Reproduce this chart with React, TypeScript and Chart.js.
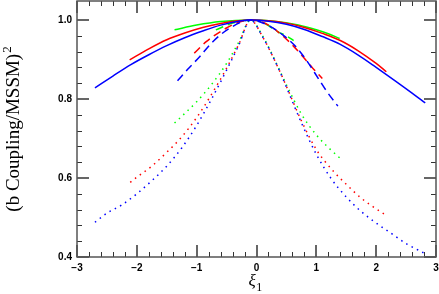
import React, { useEffect, useRef } from "react";
import { Chart, registerables } from "chart.js";

Chart.register(...registerables);

// ---- data ----
const blueSolidX = [-2.7, -2.4, -2.1, -1.8, -1.5, -1.2, -0.9, -0.6, -0.3, -0.1, 0.2, 0.5, 0.8, 1.1, 1.4, 1.7, 2.0, 2.3, 2.6, 2.82];
const blueSolidY = [0.828, 0.858, 0.887, 0.912, 0.935, 0.955, 0.972, 0.987, 0.997, 1.0, 0.997, 0.989, 0.976, 0.958, 0.938, 0.911, 0.88, 0.848, 0.815, 0.79];
const redSolidX = [-2.12, -1.8, -1.5, -1.2, -0.9, -0.6, -0.3, -0.1, 0.2, 0.5, 0.8, 1.1, 1.4, 1.7, 2.0, 2.17];
const redSolidY = [0.899, 0.927, 0.95, 0.967, 0.981, 0.991, 0.998, 1.0, 0.998, 0.992, 0.981, 0.966, 0.948, 0.922, 0.89, 0.869];
const greenSolidX = [-1.37, -1.0, -0.6, -0.1, 0.3, 0.7, 1.0, 1.2, 1.39];
const greenSolidY = [0.975, 0.987, 0.996, 1.0, 0.997, 0.987, 0.975, 0.965, 0.953];

const blueDashX = [-1.32, -1.15, -0.95, -0.73, -0.45, -0.1, 0.2, 0.45, 0.66, 0.83, 1.05, 1.18, 1.36];
const blueDashY = [0.846, 0.875, 0.907, 0.945, 0.979, 1.0, 0.986, 0.961, 0.932, 0.899, 0.848, 0.818, 0.782];
const redDashX = [-1.04, -0.84, -0.51, -0.28, -0.1, 0.2, 0.45, 0.61, 0.77, 0.94, 1.1];
const redDashY = [0.916, 0.945, 0.979, 0.995, 1.0, 0.987, 0.958, 0.935, 0.908, 0.878, 0.852];
const greenDashX = [-0.68, -0.4, -0.1, 0.1, 0.36, 0.52, 0.62];
const greenDashY = [0.975, 0.992, 1.0, 0.994, 0.97, 0.958, 0.948];

const blueDotX = [-2.7, -2.5, -2.25, -2.0, -1.75, -1.5, -1.25, -1.0, -0.75, -0.5, -0.3, -0.1, 0.1, 0.38, 0.5, 0.75, 1.0, 1.25, 1.5, 1.75, 2.0, 2.25, 2.5, 2.8];
const blueDotY = [0.488, 0.511, 0.532, 0.56, 0.593, 0.63, 0.676, 0.733, 0.8, 0.873, 0.935, 1.0, 0.958, 0.873, 0.83, 0.74, 0.66, 0.598, 0.552, 0.515, 0.486, 0.46, 0.434, 0.41];
const redDotX = [-2.11, -2.0, -1.75, -1.5, -1.25, -1.0, -0.75, -0.5, -0.3, -0.1, 0.1, 0.38, 0.5, 0.75, 1.0, 1.25, 1.5, 1.75, 2.0, 2.13];
const redDotY = [0.589, 0.602, 0.63, 0.665, 0.704, 0.753, 0.812, 0.878, 0.937, 1.0, 0.958, 0.873, 0.832, 0.745, 0.672, 0.623, 0.584, 0.549, 0.522, 0.509];
const greenDotX = [-1.37, -1.25, -1.0, -0.75, -0.5, -0.3, -0.1, 0.1, 0.38, 0.5, 0.75, 1.0, 1.25, 1.39];
const greenDotY = [0.739, 0.756, 0.793, 0.837, 0.89, 0.943, 1.0, 0.96, 0.875, 0.836, 0.762, 0.709, 0.67, 0.651];

const xTickValues = [-3, -2, -1, 0, 1, 2, 3];
const xTickLabels = ["\u22123", "\u22122", "\u22121", "0", "1", "2", "3"];
const yTickValues = [0.4, 0.6, 0.8, 1.0];
const yTickLabels = ["0.4", "0.6", "0.8", "1.0"];

const X_MIN = -3;
const X_MAX = 3;
const Y_MIN = 0.4;
const Y_MAX = 1.048;

const yTitle = "(b Coupling/MSSM)";
const yTitleSup = "2";
const xTitle = "\u03BE";
const xTitleSub = "1";

const pts = (xs: number[], ys: number[]) => xs.map((x, i) => ({ x, y: ys[i] }));

const BLUE = "#0000ff";
const RED = "#ff0000";
const GREEN = "#00ff00";

const SOLID: number[] = [];
const DASH = [8, 5];
const DOT = [1.5, 4.5];

const mk = (label: string, xs: number[], ys: number[], color: string, dash: number[]) => ({
  label,
  data: pts(xs, ys),
  borderColor: color,
  backgroundColor: color,
  borderWidth: 1.5,
  borderDash: dash,
  pointRadius: 0,
  fill: false,
  cubicInterpolationMode: "monotone" as const,
});

const zeroPad = (s: any) => {
  s.paddingLeft = 0;
  s.paddingRight = 0;
  s.paddingTop = 0;
  s.paddingBottom = 0;
};

const decorPlugin = {
  id: "decor",
  beforeDatasetsDraw(chart: any) {
    const { ctx, chartArea: a, scales } = chart;
    const xs = scales.x;
    const ys = scales.y;
    ctx.save();
    // minor ticks
    ctx.strokeStyle = "#333";
    ctx.lineWidth = 1;
    ctx.beginPath();
    for (let i = -15; i <= 15; i++) {
      if (i % 5 === 0) continue;
      const px = Math.round(xs.getPixelForValue(i * 0.2)) + 0.5;
      ctx.moveTo(px, a.bottom);
      ctx.lineTo(px, a.bottom - 5);
      ctx.moveTo(px, a.top);
      ctx.lineTo(px, a.top + 5);
    }
    for (let i = 11; i <= 25; i++) {
      if (i % 5 === 0) continue;
      const py = Math.round(ys.getPixelForValue(i * 0.04)) + 0.5;
      ctx.moveTo(a.left, py);
      ctx.lineTo(a.left + 5, py);
      ctx.moveTo(a.right, py);
      ctx.lineTo(a.right - 5, py);
    }
    ctx.stroke();
    // major ticks
    ctx.strokeStyle = "#666";
    ctx.lineWidth = 2;
    ctx.beginPath();
    for (const v of xTickValues) {
      const px = Math.round(xs.getPixelForValue(v));
      ctx.moveTo(px, a.bottom);
      ctx.lineTo(px, a.bottom - 12);
      ctx.moveTo(px, a.top);
      ctx.lineTo(px, a.top + 12);
    }
    for (const v of yTickValues) {
      const py = Math.round(ys.getPixelForValue(v));
      ctx.moveTo(a.left, py);
      ctx.lineTo(a.left + 12, py);
      ctx.moveTo(a.right, py);
      ctx.lineTo(a.right - 12, py);
    }
    ctx.stroke();
    // frame
    ctx.strokeStyle = "#555";
    ctx.lineWidth = 1.5;
    ctx.strokeRect(a.left, a.top, a.right - a.left, a.bottom - a.top);
    ctx.restore();
  },
  afterDraw(chart: any) {
    const { ctx, chartArea: a } = chart;
    ctx.save();
    ctx.fillStyle = "#000";
    // y title
    const mainFont = "19px 'Liberation Serif', 'DejaVu Serif', serif";
    const supFont = "13px 'Liberation Serif', 'DejaVu Serif', serif";
    ctx.font = mainFont;
    const w1 = ctx.measureText(yTitle).width;
    ctx.font = supFont;
    const w2 = ctx.measureText(yTitleSup).width;
    const total = w1 + 1 + w2;
    const cy = (a.top + a.bottom) / 2;
    ctx.translate(19, cy);
    ctx.rotate(-Math.PI / 2);
    ctx.textBaseline = "alphabetic";
    ctx.textAlign = "left";
    ctx.font = mainFont;
    ctx.fillText(yTitle, -total / 2, 0);
    ctx.font = supFont;
    ctx.fillText(yTitleSup, -total / 2 + w1 + 1, -8);
    ctx.restore();

    // x title
    ctx.save();
    ctx.fillStyle = "#000";
    ctx.textBaseline = "alphabetic";
    ctx.textAlign = "left";
    const cx = (a.left + a.right) / 2;
    ctx.font = "italic 17px 'Liberation Serif', 'DejaVu Serif', serif";
    const wx = ctx.measureText(xTitle).width;
    ctx.fillText(xTitle, cx - 8, 286);
    ctx.font = "12px 'Liberation Serif', 'DejaVu Serif', serif";
    ctx.fillText(xTitleSub, cx - 8 + wx + 0.5, 291);
    ctx.restore();
  },
};

export default function App() {
  const ref = useRef<HTMLCanvasElement | null>(null);
  useEffect(() => {
    if (!ref.current) return;
    const chart = new Chart(ref.current, {
      type: "line",
      data: {
        datasets: [
          mk("blue solid", blueSolidX, blueSolidY, BLUE, SOLID),
          mk("blue dashed", blueDashX, blueDashY, BLUE, DASH),
          mk("blue dotted", blueDotX, blueDotY, BLUE, DOT),
          mk("red solid", redSolidX, redSolidY, RED, SOLID),
          mk("red dashed", redDashX, redDashY, RED, DASH),
          mk("red dotted", redDotX, redDotY, RED, DOT),
          mk("green solid", greenSolidX, greenSolidY, GREEN, SOLID),
          mk("green dashed", greenDashX, greenDashY, GREEN, DASH),
          mk("green dotted", greenDotX, greenDotY, GREEN, DOT),
        ],
      },
      options: {
        responsive: false,
        animation: false,
        layout: { padding: { left: 0, right: 3, top: 1, bottom: 0 } },
        plugins: { legend: { display: false }, tooltip: { enabled: false }, title: { display: false } },
        scales: {
          x: {
            type: "linear",
            min: X_MIN,
            max: X_MAX,
            grid: { display: false, drawTicks: false },
            border: { display: false },
            afterFit: (s: any) => {
              s.height = 37;
              zeroPad(s);
            },
            afterBuildTicks: (s: any) => {
              s.ticks = xTickValues.map((v) => ({ value: v }));
            },
            ticks: {
              padding: 5,
              maxRotation: 0,
              autoSkip: false,
              color: "#000",
              font: { family: "'Liberation Sans', Arial, sans-serif", size: 10, weight: "bold" },
              callback: (v: any) => {
                const i = xTickValues.indexOf(Number(v));
                return i >= 0 ? xTickLabels[i] : "";
              },
            },
          },
          y: {
            type: "linear",
            min: Y_MIN,
            max: Y_MAX,
            grid: { display: false, drawTicks: false },
            border: { display: false },
            afterFit: (s: any) => {
              s.width = 77;
              zeroPad(s);
            },
            afterBuildTicks: (s: any) => {
              s.ticks = yTickValues.map((v) => ({ value: v }));
            },
            ticks: {
              padding: 5,
              autoSkip: false,
              color: "#000",
              font: { family: "'Liberation Sans', Arial, sans-serif", size: 10, weight: "bold" },
              callback: (v: any) => {
                const i = yTickValues.findIndex((t) => Math.abs(t - Number(v)) < 1e-9);
                return i >= 0 ? yTickLabels[i] : "";
              },
            },
          },
        },
      },
      plugins: [decorPlugin],
    });
    return () => chart.destroy();
  }, []);
  return (
    <div style={{ position: "absolute", left: 0, top: 0, width: 439, height: 294 }}>
      <canvas ref={ref} width={439} height={294} style={{ display: "block" }} />
    </div>
  );
}
